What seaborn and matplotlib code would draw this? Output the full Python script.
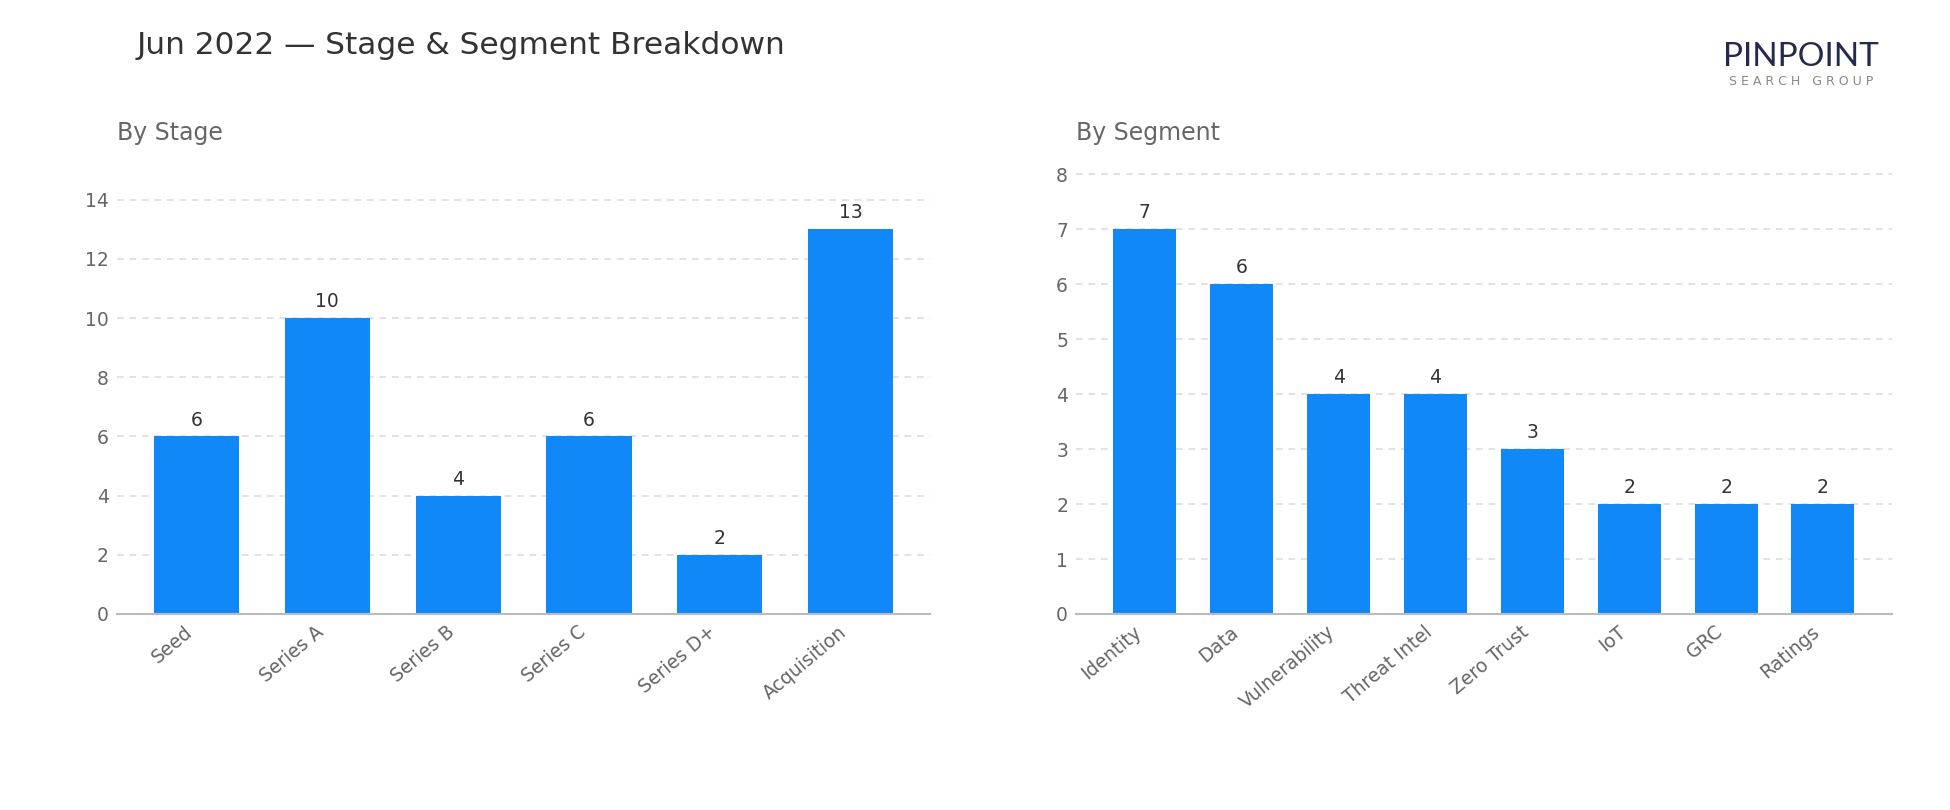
import matplotlib
matplotlib.use("Agg")
import matplotlib.pyplot as plt
import seaborn as sns
import pandas as pd

stages = ["Seed", "Series A", "Series B", "Series C", "Series D+", "Acquisition"]
stage_counts = [6, 10, 4, 6, 2, 13]
segments = ["Identity", "Data", "Vulnerability", "Threat Intel", "Zero Trust", "IoT", "GRC", "Ratings"]
segment_counts = [7, 6, 4, 4, 3, 2, 2, 2]
stage_ticks = [0, 2, 4, 6, 8, 10, 12, 14]
segment_ticks = [0, 1, 2, 3, 4, 5, 6, 7, 8]

title = "Jun 2022 \u2014 Stage & Segment Breakdown"
BAR = "#1188f8"

sns.set_theme(style="white")
plt.rcParams['font.family'] = ['DejaVu Sans']

fig = plt.figure(figsize=(19.5, 8.1), dpi=100)
ax1 = fig.add_axes([0.060, 0.242, 0.417, 0.546])
ax2 = fig.add_axes([0.552, 0.242, 0.418, 0.546])

def draw(ax, cats, vals, ticks, sub):
    df = pd.DataFrame({"cat": cats, "val": vals})
    sns.barplot(data=df, x="cat", y="val", ax=ax, color=BAR, width=0.65,
                saturation=1, edgecolor="none")
    n = len(cats)
    m = 0.05 * (n - 1 + 0.65)
    ax.set_xlim(-0.325 - m, n - 1 + 0.325 + m)
    ax.set_ylim(0, max(vals) * 1.15)
    ax.set_yticks(ticks)
    ax.set_xlabel("")
    ax.set_ylabel("")
    ax.yaxis.grid(True, linestyle=(0, (4, 3.5)), color="#dddddd", linewidth=1.2)
    ax.set_axisbelow(True)
    for s in ["top", "right", "left"]:
        ax.spines[s].set_visible(False)
    ax.spines["bottom"].set_color("#bbbbbb")
    ax.spines["bottom"].set_linewidth(1.5)
    ax.tick_params(axis="y", length=0, labelsize=13.5, labelcolor="#666666", pad=6)
    ax.tick_params(axis="x", length=0, labelsize=13.5, labelcolor="#666666", pad=6)
    plt.setp(ax.get_xticklabels(), rotation=40, ha="right")
    for c in ax.containers:
        ax.bar_label(c, labels=[str(v) for v in vals], padding=5, fontsize=13.5, color="#333333")
    ax.text(0, 1.087, sub, transform=ax.transAxes, fontsize=17, color="#666666",
            ha="left", va="center")

draw(ax1, stages, stage_counts, stage_ticks, "By Stage")
draw(ax2, segments, segment_counts, segment_ticks, "By Segment")

fig.text(0.070, 0.944, title, fontsize=22.5, color="#333333", ha="left", va="center")
fig.text(0.9236, 0.930, "PINPOINT", fontsize=24, color="#232a4e", ha="center", va="center",
         family=["Lato", "DejaVu Sans"])
fig.text(0.9236, 0.899, "S E A R C H   G R O U P", fontsize=9, color="#888888",
         ha="center", va="center")

fig.savefig("out.png", dpi=100)
